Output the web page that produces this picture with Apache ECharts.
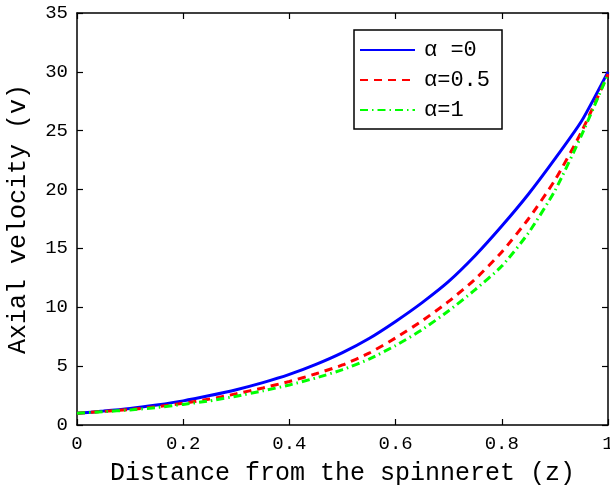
<!DOCTYPE html>
<html>
<head>
<meta charset="utf-8">
<script src="https://cdn.jsdelivr.net/npm/echarts@6/dist/echarts.min.js"></script>
<style>
html,body{margin:0;padding:0;background:#fff;}
#chart{width:610px;height:488px;}
</style>
</head>
<body>
<div id="chart"></div>
<script>
// Distance from the spinneret (z)
var zValues = [0, 0.05, 0.1, 0.15, 0.2, 0.25, 0.3, 0.35, 0.4, 0.45, 0.5, 0.55, 0.6, 0.65, 0.7, 0.75, 0.8, 0.85, 0.9, 0.95, 1.0];
// Axial velocity (v) for each alpha
var alpha0 = [1.0, 1.18, 1.4, 1.7, 2.05, 2.5, 3.0, 3.6, 4.3, 5.15, 6.15, 7.35, 8.8, 10.4, 12.2, 14.4, 16.9, 19.6, 22.6, 25.8, 30.0];
var alpha05 = [1.0, 1.15, 1.32, 1.55, 1.85, 2.2, 2.65, 3.15, 3.7, 4.35, 5.1, 6.1, 7.4, 8.85, 10.5, 12.4, 14.7, 17.5, 20.8, 24.9, 29.8];
var alpha1 = [1.0, 1.13, 1.28, 1.48, 1.75, 2.05, 2.45, 2.9, 3.4, 4.0, 4.7, 5.6, 6.75, 8.1, 9.7, 11.5, 13.5, 16.3, 19.9, 24.6, 29.8];
var seriesNames = ['α =0', 'α=0.5', 'α=1'];
var xTitle = 'Distance from the spinneret (z)';
var yTitle = 'Axial velocity (v)';

function pairs(ys) { return zValues.map(function (z, i) { return [z, ys[i]]; }); }

var mono = '"Liberation Mono", "DejaVu Sans Mono", monospace';
function axisLine() { return { show: true, onZero: false, lineStyle: { color: '#000', width: 1.5 } }; }
function tick() { return { show: true, inside: true, length: 6, lineStyle: { color: '#000', width: 1.2 } }; }

var chart = echarts.init(document.getElementById('chart'), null, { renderer: 'canvas' });
chart.setOption({
  animation: false,
  backgroundColor: '#fff',
  grid: { left: 77, right: 2, top: 13, bottom: 63, containLabel: false, outerBoundsMode: 'none' },
  legend: {
    orient: 'vertical',
    left: 354,
    top: 30,
    width: 138,
    padding: [5, 12, 4, 5],
    itemGap: 0,
    itemWidth: 55,
    itemHeight: 14,
    backgroundColor: '#fff',
    borderColor: '#000',
    borderWidth: 1.5,
    borderRadius: 0,
    itemStyle: { opacity: 0 },
    textStyle: { fontFamily: mono, fontSize: 22, color: '#000', lineHeight: 30, padding: [0, 0, 0, 4] },
    data: seriesNames
  },
  xAxis: [{
    type: 'value', min: 0, max: 1, interval: 0.2, position: 'bottom',
    name: xTitle, nameLocation: 'middle', nameGap: 36,
    nameTextStyle: { fontFamily: mono, fontSize: 25, color: '#000' },
    axisLine: axisLine(), axisTick: tick(),
    axisLabel: { fontFamily: mono, fontSize: 19, color: '#000', margin: 9 },
    splitLine: { show: false }
  }, {
    type: 'value', min: 0, max: 1, interval: 0.2, position: 'top',
    axisLine: axisLine(), axisTick: tick(), axisLabel: { show: false }, splitLine: { show: false }
  }],
  yAxis: [{
    type: 'value', min: 0, max: 35, interval: 5, position: 'left',
    name: yTitle, nameLocation: 'middle', nameGap: 46,
    nameTextStyle: { fontFamily: mono, fontSize: 25, color: '#000' },
    axisLine: axisLine(), axisTick: tick(),
    axisLabel: { fontFamily: mono, fontSize: 19, color: '#000', margin: 9 },
    splitLine: { show: false }
  }, {
    type: 'value', min: 0, max: 35, interval: 5, position: 'right',
    axisLine: axisLine(), axisTick: tick(), axisLabel: { show: false }, splitLine: { show: false }
  }],
  series: [{
    name: seriesNames[0], type: 'line', data: pairs(alpha0), showSymbol: false, symbol: 'none',
    smooth: 0.2,
    lineStyle: { color: '#0000ff', width: 3, type: 'solid' }, itemStyle: { color: '#0000ff' }
  }, {
    name: seriesNames[1], type: 'line', data: pairs(alpha05), showSymbol: false, symbol: 'none',
    smooth: 0.2,
    lineStyle: { color: '#ff0000', width: 3, type: [8, 6] }, itemStyle: { color: '#ff0000' }
  }, {
    name: seriesNames[2], type: 'line', data: pairs(alpha1), showSymbol: false, symbol: 'none',
    smooth: 0.2,
    lineStyle: { color: '#00ff00', width: 3, type: [8, 4, 1.5, 4] }, itemStyle: { color: '#00ff00' }
  }]
});
</script>
</body>
</html>
